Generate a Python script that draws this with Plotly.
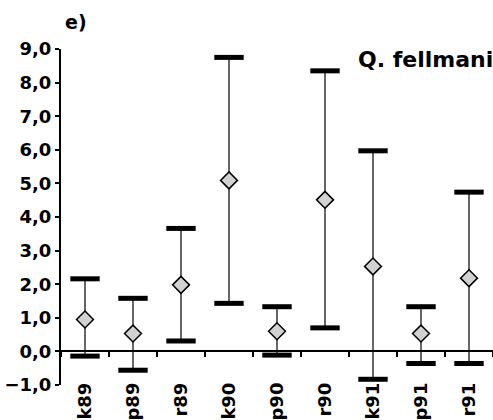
import plotly.graph_objects as go

categories = ["k89", "p89", "r89", "k90", "p90", "r90", "k91", "p91", "r91"]
means = [0.95, 0.53, 1.98, 5.09, 0.60, 4.51, 2.53, 0.53, 2.18]
upper = [2.16, 1.58, 3.66, 8.75, 1.33, 8.35, 5.97, 1.33, 4.74]
lower = [-0.14, -0.56, 0.31, 1.43, -0.11, 0.70, -0.83, -0.36, -0.36]

FONT = "DejaVu Sans"

err_plus = [u - m for u, m in zip(upper, means)]
err_minus = [m - l for m, l in zip(means, lower)]

fig = go.Figure()

# caps
fig.add_trace(go.Scatter(x=categories, y=upper, mode="markers",
                         marker=dict(symbol="line-ew", size=21, line=dict(color="black", width=5)),
                         showlegend=False, hoverinfo="skip"))
fig.add_trace(go.Scatter(x=categories, y=lower, mode="markers",
                         marker=dict(symbol="line-ew", size=21, line=dict(color="black", width=5)),
                         showlegend=False, hoverinfo="skip"))
# means with whiskers
fig.add_trace(go.Scatter(x=categories, y=means, mode="markers",
                         error_y=dict(type="data", symmetric=False, array=err_plus, arrayminus=err_minus,
                                      width=0, thickness=1.2, color="black"),
                         marker=dict(symbol="diamond", size=13, color="#d2d2d2",
                                     line=dict(color="black", width=1.5)),
                         showlegend=False, hoverinfo="skip"))
# dummy trace for label axis
fig.add_trace(go.Scatter(x=categories, y=[None] * len(categories), xaxis="x2", yaxis="y",
                         mode="markers", showlegend=False, hoverinfo="skip"))

fig.update_layout(
    width=493, height=420,
    margin=dict(l=61, r=0, t=49, b=35, autoexpand=False),
    paper_bgcolor="white", plot_bgcolor="white",
    separators=",.",
    font=dict(family=FONT, color="black", size=18),
    xaxis=dict(type="category", categoryarray=categories, range=[-0.5, 8.5],
               anchor="free", position=0.1, showline=True, linecolor="black", linewidth=2,
               ticks="outside", tickson="boundaries", ticklen=5, tickwidth=1.5, tickcolor="black",
               showticklabels=False, showgrid=False, zeroline=False, automargin=False),
    xaxis2=dict(type="category", categoryarray=categories, range=[-0.5, 8.5],
                overlaying="x", anchor="y", side="bottom", showline=False, showgrid=False,
                ticks="", tickangle=-90, zeroline=False, ticklabelstandoff=-7, automargin=False,
                tickfont=dict(family=FONT, size=18, weight="bold")),
    yaxis=dict(range=[-1, 9], dtick=1, tick0=0, tickformat=".1f", showline=True,
               linecolor="black", linewidth=2, ticks="outside", ticklen=4, tickwidth=2,
               tickcolor="black", showgrid=False, zeroline=False, automargin=False,
               tickfont=dict(family=FONT, size=18, weight="bold")),
    annotations=[
        dict(text="e)", xref="paper", yref="paper", x=0.0, y=1.0, yanchor="bottom", xanchor="left",
             yshift=14, xshift=2, showarrow=False, font=dict(family=FONT, size=19, weight="bold")),
        dict(text="Q. fellmani", xref="paper", yref="paper", x=1.0, y=1.0, xanchor="right",
             yanchor="middle", yshift=-10, xshift=2, showarrow=False,
             font=dict(family=FONT, size=22, weight="bold")),
    ],
)

fig.write_html("out.html")
